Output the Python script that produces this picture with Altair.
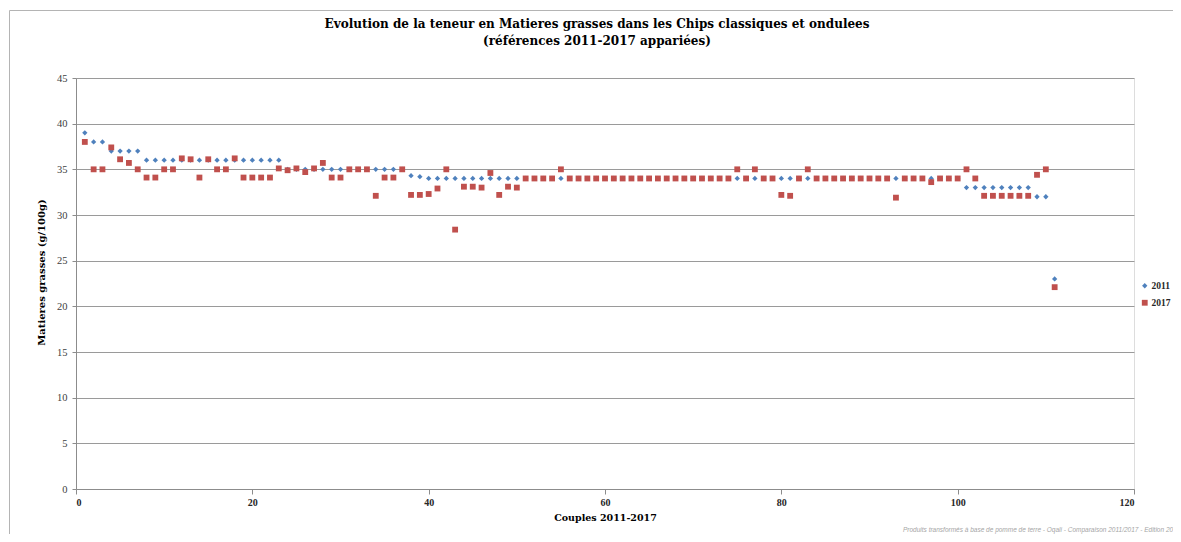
import altair as alt
import pandas as pd

couples = list(range(1, 112))

mg_2011 = [
    39, 38, 38, 37, 37, 37, 37, 36, 36, 36,
    36, 36, 36, 36, 36, 36, 36, 36, 36, 36,
    36, 36, 36, 35, 35, 35, 35, 35, 35, 35,
    35, 35, 35, 35, 35, 35, 35, 34.3, 34.2, 34,
    34, 34, 34, 34, 34, 34, 34, 34, 34, 34,
    34, 34, 34, 34, 34, 34, 34, 34, 34, 34,
    34, 34, 34, 34, 34, 34, 34, 34, 34, 34,
    34, 34, 34, 34, 34, 34, 34, 34, 34, 34,
    34, 34, 34, 34, 34, 34, 34, 34, 34, 34,
    34, 34, 34, 34, 34, 34, 34, 34, 34, 34,
    33, 33, 33, 33, 33, 33, 33, 33, 32, 32,
    23,
]

mg_2017 = [
    38, 35, 35, 37.4, 36.1, 35.7, 35, 34.1, 34.1, 35,
    35, 36.2, 36.1, 34.1, 36.1, 35, 35, 36.2, 34.1, 34.1,
    34.1, 34.1, 35.1, 34.9, 35.1, 34.7, 35.1, 35.7, 34.1, 34.1,
    35, 35, 35, 32.1, 34.1, 34.1, 35, 32.2, 32.2, 32.3,
    32.9, 35, 28.4, 33.1, 33.1, 33.0, 34.6, 32.2, 33.1, 33.0,
    34, 34, 34, 34, 35, 34, 34, 34, 34, 34,
    34, 34, 34, 34, 34, 34, 34, 34, 34, 34,
    34, 34, 34, 34, 35, 34, 35, 34, 34, 32.2,
    32.1, 34, 35, 34, 34, 34, 34, 34, 34, 34,
    34, 34, 31.9, 34, 34, 34, 33.6, 34, 34, 34,
    35, 34, 32.1, 32.1, 32.1, 32.1, 32.1, 32.1, 34.4, 35,
    22.1,
]

series = ["2011", "2017"]
series_colors = ["#4F81BD", "#C0504D"]
series_shapes = ["diamond", "square"]
x_ticks = [0, 20, 40, 60, 80, 100, 120]
y_ticks = [0, 5, 10, 15, 20, 25, 30, 35, 40, 45]

title_line1 = "Evolution de la teneur en Matieres grasses dans les Chips classiques et ondulees"
title_line2 = "(références 2011-2017 appariées)"
x_title = "Couples 2011-2017"
y_title = "Matieres grasses (g/100g)"
footer = "Produits transformés à base de pomme de terre - Oqali - Comparaison 2011/2017  - Edition 20"

df = pd.DataFrame({
    "couple": couples + couples,
    "mg": mg_2011 + mg_2017,
    "annee": [series[0]] * len(couples) + [series[1]] * len(couples),
})

W, H = 1058, 411
PL, PT, PR, PB = 68, 70, 39, 45
SERIF = "DejaVu Serif"
LSERIF = "Liberation Serif"

points = alt.Chart(df).mark_point(filled=True, opacity=1, strokeWidth=0).encode(
    x=alt.X("couple:Q",
            scale=alt.Scale(domain=[0, 120], nice=False, zero=True),
            axis=alt.Axis(values=x_ticks, title=x_title, grid=False,
                          domainColor="#8c8c8c", tickColor="#8c8c8c", tickSize=5,
                          labelFont=LSERIF, labelFontSize=10, labelFontWeight="bold",
                          labelColor="#262626", labelPadding=3,
                          titleFont=SERIF, titleFontSize=9.5, titleFontWeight="bold",
                          titleColor="black", titlePadding=5)),
    y=alt.Y("mg:Q",
            scale=alt.Scale(domain=[0, 45], nice=False),
            axis=alt.Axis(values=y_ticks, title=y_title, grid=True,
                          gridColor="#9a9a9a", gridWidth=1,
                          domainColor="#8c8c8c", tickColor="#8c8c8c", tickSize=4,
                          labelFont=LSERIF, labelFontSize=10.5, labelColor="#404040",
                          labelPadding=5,
                          titleFont=SERIF, titleFontSize=10, titleFontWeight="bold",
                          titleColor="black", titleAngle=270, titleAlign="center",
                          titleBaseline="middle", titleX=41 - 76, titleY=272 - 78)),
    color=alt.Color("annee:N", scale=alt.Scale(domain=series, range=series_colors),
                    legend=alt.Legend(title=None, orient="none", legendX=1132 - PL, legendY=273 - PT,
                                      labelFont=LSERIF, labelFontSize=9.5, labelFontWeight="bold",
                                      labelColor="#262626", symbolSize=30, rowPadding=6,
                                      labelOffset=2, symbolStrokeWidth=0)),
    shape=alt.Shape("annee:N", scale=alt.Scale(domain=series, range=series_shapes)),
    size=alt.Size("annee:N", scale=alt.Scale(domain=series, range=[28, 34]), legend=None),
)

frame_src = pd.DataFrame({"k": [0]})
border = alt.Chart(frame_src).mark_rect(fill=None, stroke="#b4b4b4", strokeWidth=1).encode(
    x=alt.value(1.5 - PL), x2=alt.value(W + PR + 30),
    y=alt.value(2.5 - PT), y2=alt.value(H + PB + 30)
)

title1 = alt.Chart(pd.DataFrame({"t": [title_line1]})).mark_text(
    align="center", baseline="alphabetic", font=SERIF, fontSize=12, fontWeight="bold",
    color="black"
).encode(text="t:N", x=alt.value(597 - 8 - PL), y=alt.value(28 - 8 - PT))
title2 = alt.Chart(pd.DataFrame({"t": [title_line2]})).mark_text(
    align="center", baseline="alphabetic", font=SERIF, fontSize=12, fontWeight="bold",
    color="black"
).encode(text="t:N", x=alt.value(597 - 8 - PL), y=alt.value(45 - 8 - PT))

foot_src = pd.DataFrame({"t": [footer]})
foot = alt.Chart(foot_src).mark_text(
    align="left", baseline="bottom", font="Liberation Sans", fontStyle="italic",
    fontSize=6.5, color="#a6a6a6"
).encode(text="t:N", x=alt.value(895 - PL), y=alt.value(H + PB - 1))

chart = alt.layer(border, title1, title2, points, foot).properties(
    width=W, height=H,
    autosize=alt.AutoSizeParams(type="none"),
    padding={"left": PL, "top": PT, "right": PR, "bottom": PB},
).configure_view(stroke=None).configure(background="white")

chart.save("out.html", embed_options={"renderer": "svg", "actions": False})
